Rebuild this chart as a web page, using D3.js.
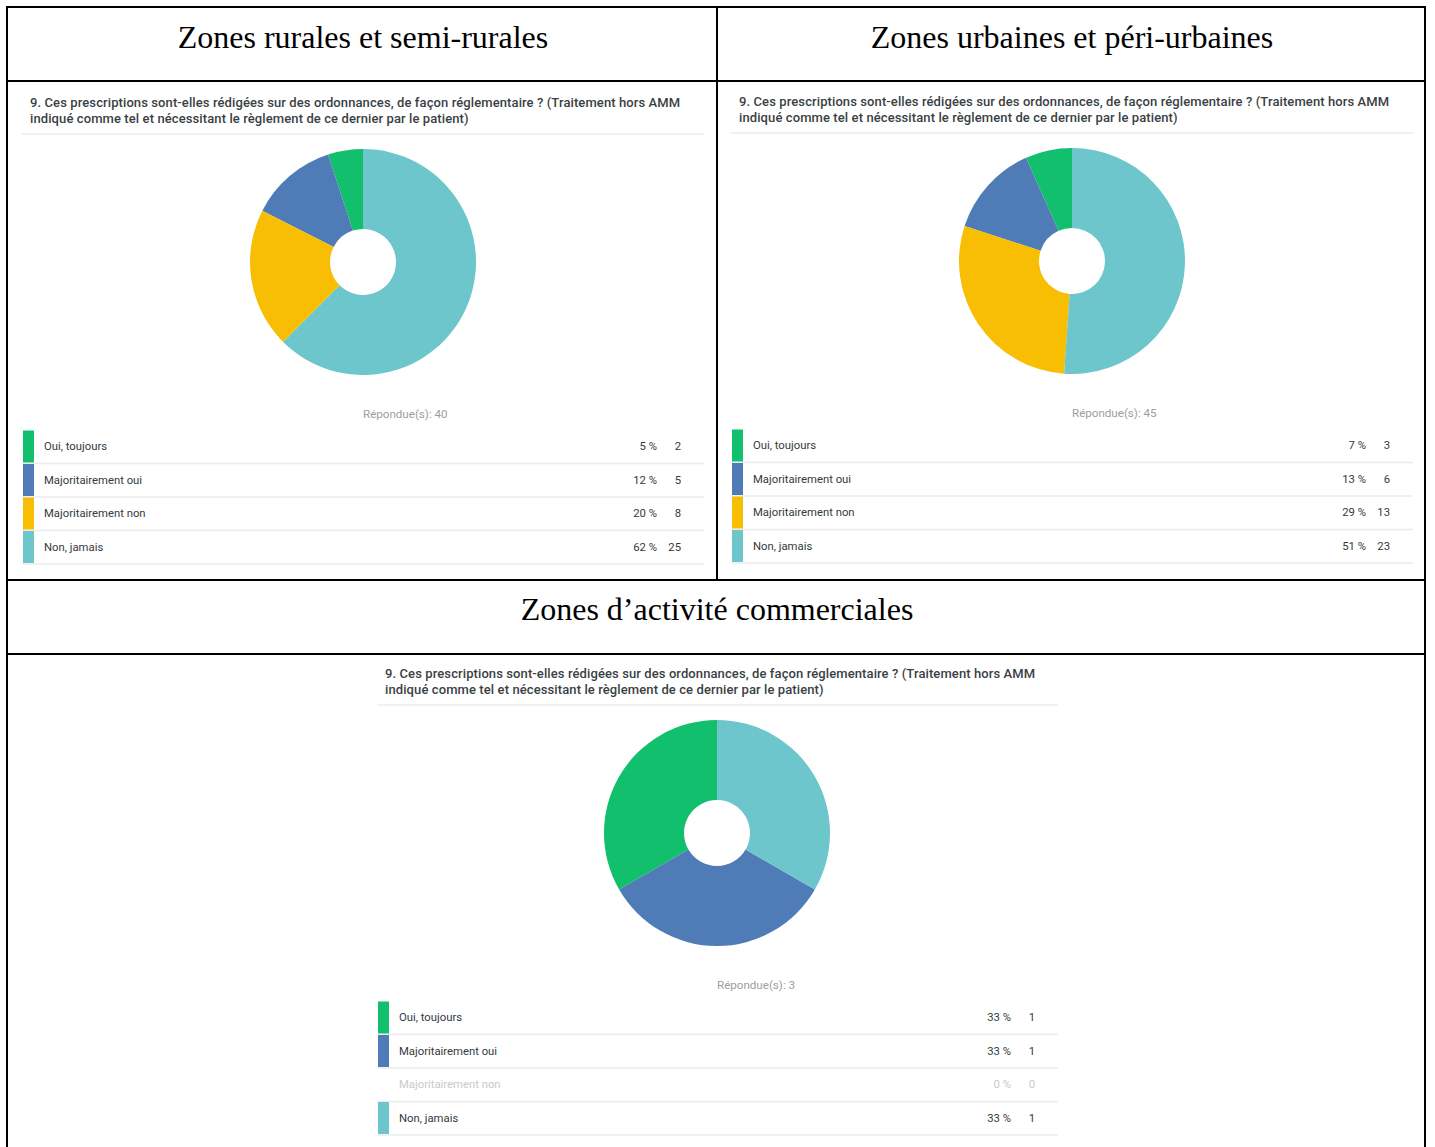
<!DOCTYPE html>
<html>
<head>
<meta charset="utf-8">
<script src="https://cdn.jsdelivr.net/npm/d3@7/dist/d3.min.js"></script>
<style>
  html, body { margin: 0; padding: 0; background: #ffffff; }
  svg { display: block; }
</style>
</head>
<body>
<script>
// Survey question 9, answers by zone
const categories = ["Oui, toujours", "Majoritairement oui", "Majoritairement non", "Non, jamais"];
const zoneTitles = ["Zones rurales et semi-rurales", "Zones urbaines et péri-urbaines", "Zones d\u2019activité commerciales"];
const questionLines = [
  "9. Ces prescriptions sont-elles rédigées sur des ordonnances, de façon réglementaire ? (Traitement hors AMM",
  "indiqué comme tel et nécessitant le règlement de ce dernier par le patient)"
];
const ruralCounts = [2, 5, 8, 25];
const ruralPercents = [5, 12, 20, 62];
const urbanCounts = [3, 6, 13, 23];
const urbanPercents = [7, 13, 29, 51];
const commerceCounts = [1, 1, 0, 1];
const commercePercents = [33, 33, 0, 33];
const answeredTotals = [40, 45, 3];
const categoryColors = ["#12bf6d", "#4f7bb6", "#f8be03", "#6cc6cc"];

const W = 1435, H = 1147;
const svg = d3.select("body").append("svg").attr("width", W).attr("height", H);

const color = d3.scaleOrdinal().domain(categories).range(categoryColors);

// Each panel: legend span [lx, rx], vertical anchor y0 (first question line), pie centre cx
const panels = [
  { counts: ruralCounts, pcts: ruralPercents, total: answeredTotals[0], lx: 22, rx: 704, y0: 102, cx: 363 },
  { counts: urbanCounts, pcts: urbanPercents, total: answeredTotals[1], lx: 731, rx: 1413, y0: 101, cx: 1072 },
  { counts: commerceCounts, pcts: commercePercents, total: answeredTotals[2], lx: 377, rx: 1058, y0: 673, cx: 717 }
];

const pie = d3.pie().sort(null).value(d => d.count).startAngle(0).endAngle(-2 * Math.PI);
const arc = d3.arc().innerRadius(33).outerRadius(113);

const rowH = 33.5;
const y = d3.scaleBand().domain(categories).paddingInner(0).paddingOuter(0);
const sans = "Roboto, 'Noto Sans', sans-serif";

panels.forEach(p => {
  const g = svg.append("g");
  const data = categories.map((c, i) => ({ cat: c, count: p.counts[i], pct: p.pcts[i] }));

  // question text
  g.append("g").selectAll("text").data(questionLines).join("text")
    .attr("x", p.lx + 8)
    .attr("y", (d, i) => p.y0 + i * 16)
    .attr("dominant-baseline", "central")
    .attr("font-family", sans)
    .attr("font-size", 13)
    .attr("font-weight", 500)
    .attr("letter-spacing", 0.1)
    .attr("fill", "#3a3f44")
    .text(d => d);

  g.append("line")
    .attr("x1", p.lx).attr("x2", p.rx)
    .attr("y1", p.y0 + 32).attr("y2", p.y0 + 32)
    .attr("stroke", "#ececec").attr("stroke-width", 1.5);

  // donut
  const pg = g.append("g").attr("transform", `translate(${p.cx},${p.y0 + 160})`);
  pg.selectAll("path").data(pie(data)).join("path")
    .attr("d", arc)
    .attr("fill", d => color(d.data.cat));

  g.append("text")
    .attr("x", p.cx).attr("y", p.y0 + 312)
    .attr("dominant-baseline", "central")
    .attr("font-family", sans)
    .attr("font-size", 11.6)
    .attr("fill", "#9a9ea3")
    .text(`Répondue(s): ${p.total}`);

  // legend rows
  const top = p.y0 + 328;
  y.range([top, top + rowH * categories.length]);
  const rows = g.append("g").selectAll("g").data(data).join("g")
    .attr("transform", d => `translate(0,${y(d.cat)})`);

  rows.append("line")
    .attr("x1", p.lx).attr("x2", p.rx)
    .attr("y1", rowH).attr("y2", rowH)
    .attr("stroke", "#ebebeb").attr("stroke-width", 1.5);
  rows.filter(d => d.count > 0).append("rect")
    .attr("x", p.lx + 1).attr("y", 0.5)
    .attr("width", 11).attr("height", rowH - 1.5)
    .attr("fill", d => color(d.cat));

  const txtFill = d => d.count > 0 ? "#333a40" : "#c7cacd";
  const cell = sel => sel
    .attr("y", rowH / 2)
    .attr("dominant-baseline", "central")
    .attr("font-family", sans)
    .attr("font-size", 11.3)
    .attr("fill", txtFill);

  rows.append("text").call(cell)
    .attr("x", p.lx + 22)
    .text(d => d.cat);
  rows.append("text").call(cell)
    .attr("x", p.rx - 47)
    .attr("text-anchor", "end")
    .text(d => `${d.pct} %`);
  rows.append("text").call(cell)
    .attr("x", p.rx - 23)
    .attr("text-anchor", "end")
    .text(d => d.count);
});

// table frame
const frame = svg.append("g").attr("stroke", "#000").attr("stroke-width", 2).attr("fill", "none");
frame.append("rect").attr("x", 7).attr("y", 7).attr("width", 1418).attr("height", H + 10);
[81, 580, 654].forEach(yy => frame.append("line").attr("x1", 7).attr("x2", 1425).attr("y1", yy).attr("y2", yy));
frame.append("line").attr("x1", 717).attr("x2", 717).attr("y1", 7).attr("y2", 580);

// zone headings
const headPos = [[363, 48], [1072, 48], [717, 620]];
svg.append("g").selectAll("text").data(zoneTitles).join("text")
  .attr("x", (d, i) => headPos[i][0])
  .attr("y", (d, i) => headPos[i][1])
  .attr("text-anchor", "middle")
  .attr("font-family", "'Liberation Serif', 'Times New Roman', serif")
  .attr("font-size", 32)
  .attr("fill", "#000")
  .text(d => d);
</script>
</body>
</html>
